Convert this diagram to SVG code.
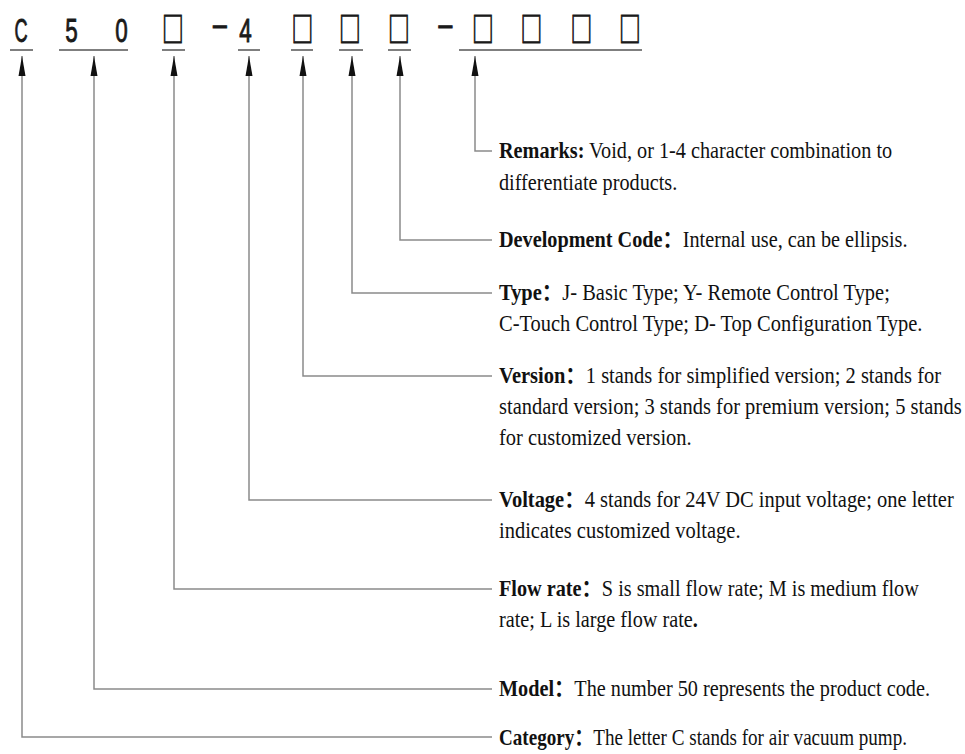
<svg xmlns="http://www.w3.org/2000/svg" width="965" height="754" viewBox="0 0 965 754">
<style>
.code{font-family:"Liberation Sans","DejaVu Sans",sans-serif;font-size:33px;fill:#1a1a1a;stroke:#1a1a1a;stroke-width:0.9;text-anchor:middle}
.box{font-family:"Noto Sans CJK SC","DejaVu Sans",sans-serif;font-size:33px;fill:#1a1a1a;stroke:#1a1a1a;stroke-width:0.9;text-anchor:middle}
.ul{stroke:#555;stroke-width:1.5;fill:none}
.conn{stroke:#8a8a8a;stroke-width:1.5;fill:none;marker-end:url(#ah)}
.t{font-family:"Liberation Serif","Noto Sans CJK SC",serif;font-size:23px;fill:#111;dominant-baseline:central}
.b{font-weight:bold}
</style>
<defs>
<marker id="ah" viewBox="0 0 20 8" refX="20" refY="4" markerWidth="20" markerHeight="8" markerUnits="userSpaceOnUse" orient="auto">
<path d="M0,0.5 L20,4 L0,7.5 z" fill="#111"/>
</marker>
</defs>
<rect width="965" height="754" fill="#fff"/>

<g id="code">
<g transform="translate(21,42) scale(0.55,1)"><text class="code">C</text></g>
<g transform="translate(71.5,42) scale(0.68,1)"><text class="code">5</text></g>
<g transform="translate(121.5,42) scale(0.68,1)"><text class="code">0</text></g>
<g transform="translate(173,42) scale(0.66,1.05)"><text class="box">□</text></g>
<g transform="translate(220,35) scale(0.75,1)"><text class="code">–</text></g>
<g transform="translate(245.5,42) scale(0.68,1)"><text class="code">4</text></g>
<g transform="translate(302.5,42) scale(0.66,1.05)"><text class="box">□</text></g>
<g transform="translate(350,42) scale(0.66,1.05)"><text class="box">□</text></g>
<g transform="translate(399,42) scale(0.66,1.05)"><text class="box">□</text></g>
<g transform="translate(445.5,35) scale(0.75,1)"><text class="code">–</text></g>
<g transform="translate(483,42) scale(0.66,1.05)"><text class="box">□</text></g>
<g transform="translate(531.5,42) scale(0.66,1.05)"><text class="box">□</text></g>
<g transform="translate(581.5,42) scale(0.66,1.05)"><text class="box">□</text></g>
<g transform="translate(630,42) scale(0.66,1.05)"><text class="box">□</text></g>
<path class="ul" d="M10,50H33 M59,50H128 M162,50H185 M238,50H260 M291,50H313 M339,50H363 M388,50H411 M459,50H642"/>
</g>

<g id="connectors">
<path class="conn" d="M492,151H475V56"/>
<path class="conn" d="M492,240H400V56"/>
<path class="conn" d="M492,293H352V56"/>
<path class="conn" d="M492,376H303V56"/>
<path class="conn" d="M492,500H249V56"/>
<path class="conn" d="M492,589H174V56"/>
<path class="conn" d="M492,689H94V56"/>
<path class="conn" d="M492,737H22V56"/>
</g>

<g id="remarks" transform="translate(499,0) scale(0.88,1)">
<text class="t" x="0" y="151"><tspan class="b">Remarks:</tspan> Void, or 1-4 character combination to</text>
<text class="t" x="0" y="183">differentiate products.</text>
</g>
<g id="development-code" transform="translate(499,0) scale(0.88,1)">
<text class="t" x="0" y="240"><tspan class="b">Development Code：</tspan>Internal use, can be ellipsis.</text>
</g>
<g id="type" transform="translate(499,0) scale(0.89,1)">
<text class="t" x="0" y="293"><tspan class="b">Type：</tspan>J- Basic Type; Y- Remote Control Type;</text>
<text class="t" x="0" y="324">C-Touch Control Type;  D- Top Configuration Type.</text>
</g>
<g id="version" transform="translate(499,0) scale(0.89,1)">
<text class="t" x="0" y="376"><tspan class="b">Version：</tspan>1 stands for simplified version; 2 stands for</text>
<text class="t" x="0" y="407">standard version; 3 stands for premium version; 5 stands</text>
<text class="t" x="0" y="438">for customized version.</text>
</g>
<g id="voltage" transform="translate(499,0) scale(0.89,1)">
<text class="t" x="0" y="500"><tspan class="b">Voltage：</tspan>4 stands for 24V DC input voltage; one letter</text>
<text class="t" x="0" y="531">indicates customized voltage.</text>
</g>
<g id="flow-rate" transform="translate(499,0) scale(0.88,1)">
<text class="t" x="0" y="589"><tspan class="b">Flow rate：</tspan>S is small flow rate; M is medium flow</text>
<text class="t" x="0" y="620">rate; L is large flow rate<tspan class="b">.</tspan></text>
</g>
<g id="model" transform="translate(499,0) scale(0.88,1)">
<text class="t" x="0" y="689"><tspan class="b">Model：</tspan>The number 50 represents the product code.</text>
</g>
<g id="category" transform="translate(499,0) scale(0.83,1)">
<text class="t" x="0" y="737"><tspan class="b">Category：</tspan>The letter C stands for air vacuum pump.</text>
</g>
</svg>
